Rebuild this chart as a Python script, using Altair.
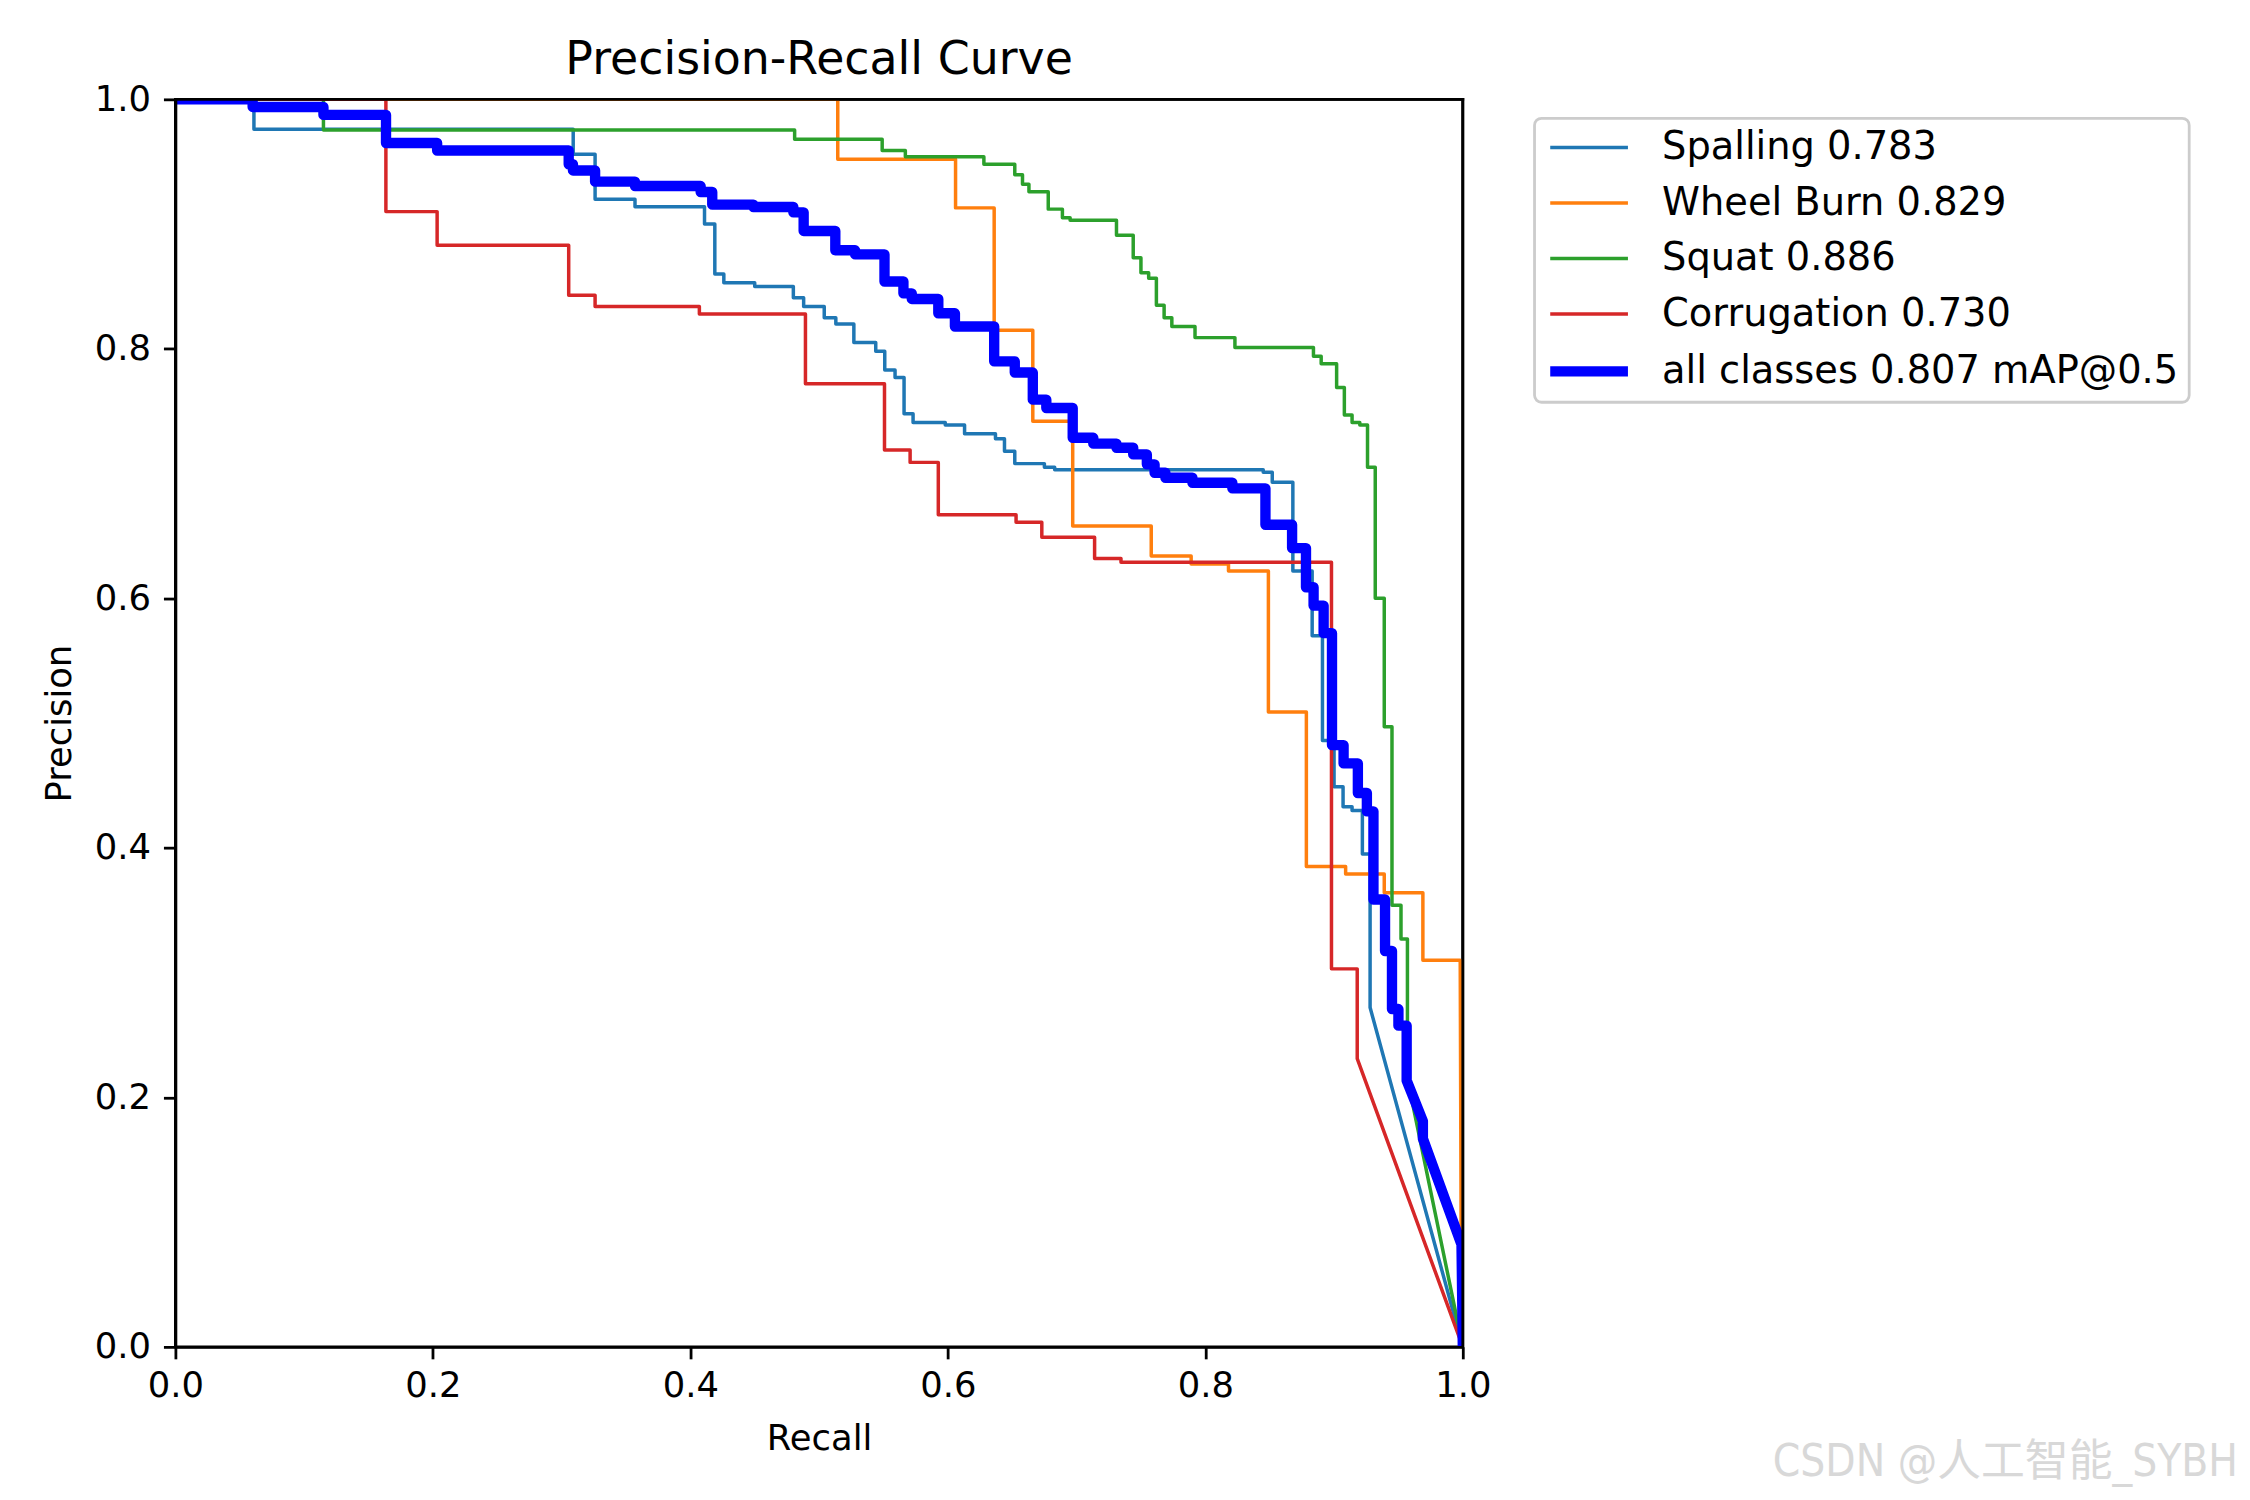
import altair as alt
import pandas as pd

# ---------------- data ----------------
SERIES = ["Spalling 0.783", "Wheel Burn 0.829", "Squat 0.886",
          "Corrugation 0.730", "all classes 0.807 mAP@0.5"]
COLORS = ["#1f77b4", "#ff7f0e", "#2ca02c", "#d62728", "#0000ff"]

# Spalling: recall where a step happens, precision level before/after each step
spalling_step_r = [0.061, 0.309, 0.326, 0.357, 0.411, 0.419, 0.426, 0.450, 0.480,
                   0.488, 0.504, 0.513, 0.527, 0.544, 0.551, 0.559, 0.566, 0.573,
                   0.598, 0.613, 0.637, 0.644, 0.652, 0.675, 0.683, 0.845, 0.852,
                   0.868, 0.883, 0.891, 0.900, 0.907, 0.914, 0.922, 0.928]
spalling_levels = [1.0, 0.976, 0.956, 0.920, 0.914, 0.900, 0.860, 0.853, 0.850,
                   0.841, 0.834, 0.825, 0.820, 0.805, 0.798, 0.783, 0.777, 0.748,
                   0.741, 0.739, 0.732, 0.728, 0.718, 0.708, 0.705, 0.703, 0.701,
                   0.693, 0.622, 0.570, 0.486, 0.449, 0.433, 0.430, 0.395, 0.272]
spalling_tail_r = [1.0]
spalling_tail_p = [0.0]

wheel_step_r = [0.5145, 0.606, 0.636, 0.666, 0.697, 0.758, 0.789, 0.818, 0.849,
                0.8785, 0.909, 0.939, 0.969]
wheel_levels = [1.0, 0.952, 0.913, 0.815, 0.742, 0.658, 0.634, 0.6275, 0.622,
                0.509, 0.385, 0.379, 0.364, 0.310]
wheel_tail_r = [0.998, 0.999]
wheel_tail_p = [0.310, 0.0]

squat_step_r = [0.115, 0.481, 0.549, 0.567, 0.628, 0.652, 0.658, 0.663, 0.678,
                0.689, 0.695, 0.731, 0.744, 0.750, 0.756, 0.762, 0.768, 0.774,
                0.792, 0.823, 0.884, 0.890, 0.902, 0.908, 0.914, 0.920, 0.926,
                0.932, 0.939, 0.945, 0.952, 0.957]
squat_levels = [1.0, 0.9755, 0.968, 0.959, 0.954, 0.948, 0.9395, 0.932, 0.926,
                0.912, 0.905, 0.903, 0.891, 0.873, 0.861, 0.8565, 0.835, 0.825,
                0.818, 0.809, 0.801, 0.794, 0.788, 0.769, 0.747, 0.741, 0.739,
                0.705, 0.600, 0.497, 0.354, 0.327, 0.215]
squat_tail_r = [1.0]
squat_tail_p = [0.0]

corr_step_r = [0.1635, 0.2033, 0.3055, 0.326, 0.407, 0.4894, 0.5508, 0.5707,
               0.5926, 0.653, 0.673, 0.714, 0.7345, 0.898, 0.918]
corr_levels = [1.0, 0.910, 0.883, 0.843, 0.834, 0.828, 0.772, 0.719, 0.709,
               0.667, 0.661, 0.649, 0.632, 0.629, 0.303, 0.231]
corr_tail_r = [1.0]
corr_tail_p = [0.0]

all_step_r = [0.060, 0.115, 0.1636, 0.2033, 0.3055, 0.3088, 0.326, 0.357, 0.408,
              0.417, 0.449, 0.480, 0.488, 0.5126, 0.528, 0.5508, 0.5655, 0.572,
              0.5926, 0.6055, 0.636, 0.652, 0.666, 0.6765, 0.697, 0.713, 0.731,
              0.744, 0.7546, 0.7606, 0.769, 0.790, 0.821, 0.8467, 0.8674, 0.8782,
              0.8841, 0.8919, 0.8984, 0.9074, 0.9185, 0.9255, 0.9306, 0.9396,
              0.945, 0.950, 0.9564]
all_levels = [1.0, 0.9939, 0.9875, 0.965, 0.959, 0.948, 0.943, 0.934, 0.9305,
              0.9257, 0.9156, 0.9137, 0.9094, 0.8945, 0.879, 0.8757, 0.854, 0.8445,
              0.840, 0.8285, 0.8179, 0.790, 0.781, 0.7593, 0.7526, 0.7287, 0.724,
              0.7207, 0.7154, 0.7074, 0.7007, 0.6967, 0.6927, 0.6882, 0.659, 0.6403,
              0.6089, 0.5942, 0.5721, 0.4824, 0.4677, 0.444, 0.4293, 0.3586, 0.3173,
              0.2708, 0.2575, 0.2135]
all_tail_r = [0.969, 0.969, 0.999, 1.0]
all_tail_p = [0.181, 0.167, 0.082, 0.0]

X_TICKS = [0.0, 0.2, 0.4, 0.6, 0.8, 1.0]
Y_TICKS = [0.0, 0.2, 0.4, 0.6, 0.8, 1.0]
TITLE = "Precision-Recall Curve"
X_TITLE = "Recall"
Y_TITLE = "Precision"
WATERMARK = "CSDN @人工智能_SYBH"


def build(name, step_r, levels, tail_r, tail_p):
    pts = [(0.0, levels[0])]
    for i, r in enumerate(step_r):
        pts.append((r, levels[i]))
        pts.append((r, levels[i + 1]))
    pts += list(zip(tail_r, tail_p))
    return [{"series": name, "recall": r, "precision": p, "idx": k}
            for k, (r, p) in enumerate(pts)]


rows = []
rows += build(SERIES[0], spalling_step_r, spalling_levels, spalling_tail_r, spalling_tail_p)
rows += build(SERIES[1], wheel_step_r, wheel_levels, wheel_tail_r, wheel_tail_p)
rows += build(SERIES[2], squat_step_r, squat_levels, squat_tail_r, squat_tail_p)
rows += build(SERIES[3], corr_step_r, corr_levels, corr_tail_r, corr_tail_p)
rows += build(SERIES[4], all_step_r, all_levels, all_tail_r, all_tail_p)
df = pd.DataFrame(rows)

FONT = "DejaVu Sans"
THIN = 3.5
THICK = 10.4
SPINE = 2.8

x_scale = alt.Scale(domain=[0, 1], nice=False, zero=False)
y_scale = alt.Scale(domain=[0, 1], nice=False, zero=False)

x_enc = alt.X("recall:Q", scale=x_scale,
              axis=alt.Axis(title=X_TITLE, values=X_TICKS, format=".1f",
                            tickSize=12, tickWidth=SPINE, tickColor="black",
                            labelPadding=10, labelFontSize=35.5, labelFont=FONT,
                            labelColor="black", labelFlush=False, labelOverlap=False,
                            titleFontSize=35.5, titleFont=FONT, titleFontWeight="normal",
                            titleColor="black", titlePadding=17, grid=False,
                            domain=True, domainColor="black", domainWidth=SPINE,
                            zindex=1))
y_enc = alt.Y("precision:Q", scale=y_scale,
              axis=alt.Axis(title=Y_TITLE, values=Y_TICKS, format=".1f",
                            tickSize=12, tickWidth=SPINE, tickColor="black",
                            labelPadding=13, labelFontSize=35.5, labelFont=FONT,
                            labelColor="black", labelFlush=False, labelOverlap=False,
                            titleFontSize=35.5, titleFont=FONT, titleFontWeight="normal",
                            titleColor="black", titlePadding=17, grid=False,
                            domain=True, domainColor="black", domainWidth=SPINE,
                            zindex=1))

legend = alt.Legend(title=None, orient="none", legendX=1364, legendY=19,
                    symbolType="M-2,0H2", symbolSize=1521, symbolOffset=25.5,
                    symbolStrokeWidth={"expr": f"datum.value === '{SERIES[4]}' ? {THICK} : {THIN}"},
                    labelOffset=54, labelFontSize=38.5, labelFont=FONT,
                    labelColor="black", labelLimit=2000, rowPadding=16.7,
                    padding=10, fillColor="white", strokeColor="#cccccc",
                    cornerRadius=7)

color_enc = alt.Color("series:N", scale=alt.Scale(domain=SERIES, range=COLORS),
                      legend=legend)

base = alt.Chart(df).encode(x=x_enc, y=y_enc, color=color_enc, order="idx:Q")

thin = base.transform_filter(alt.datum.series != SERIES[4]).mark_line(
    clip=True, strokeWidth=THIN, strokeJoin="round", strokeCap="butt")
thick = base.transform_filter(alt.datum.series == SERIES[4]).mark_line(
    clip=True, strokeWidth=THICK, strokeJoin="round", strokeCap="butt")

# top and right spines drawn above the curves (as matplotlib does)
frame_df = pd.DataFrame({"k": [0]})
top_spine = alt.Chart(frame_df).mark_rule(
    color="black", strokeWidth=SPINE, strokeCap="square"
).encode(x=alt.datum(0, scale=x_scale), x2=alt.datum(1), y=alt.datum(1, scale=y_scale))
right_spine = alt.Chart(frame_df).mark_rule(
    color="black", strokeWidth=SPINE, strokeCap="square"
).encode(x=alt.datum(1, scale=x_scale), y=alt.datum(0, scale=y_scale), y2=alt.datum(1))

mark_df = pd.DataFrame({"t": [WATERMARK]})
watermark = alt.Chart(mark_df).mark_text(
    align="right", baseline="alphabetic", fontSize=44, color="#d8d8d8",
    font="'Liberation Sans Narrow', 'DejaVu Sans Condensed', 'Noto Sans CJK SC', sans-serif"
).encode(text="t:N", x=alt.value(2070), y=alt.value(1382))

chart = alt.layer(thin, thick, top_spine, right_spine, watermark).properties(
    width=1292, height=1252,
    title=alt.TitleParams(TITLE, fontSize=46, font=FONT, fontWeight="normal",
                          color="black", anchor="middle", frame="group",
                          baseline="alphabetic", offset=20, dy=57.5),
    autosize=alt.AutoSizeParams(type="none"),
    padding={"left": 168, "top": 89, "right": 782, "bottom": 151},
).configure(
    background="white"
).configure_view(
    stroke="black", strokeWidth=SPINE
).configure_legend(
    strokeWidth=SPINE
)

chart.save("out.html", embed_options={"renderer": "svg", "actions": False})
